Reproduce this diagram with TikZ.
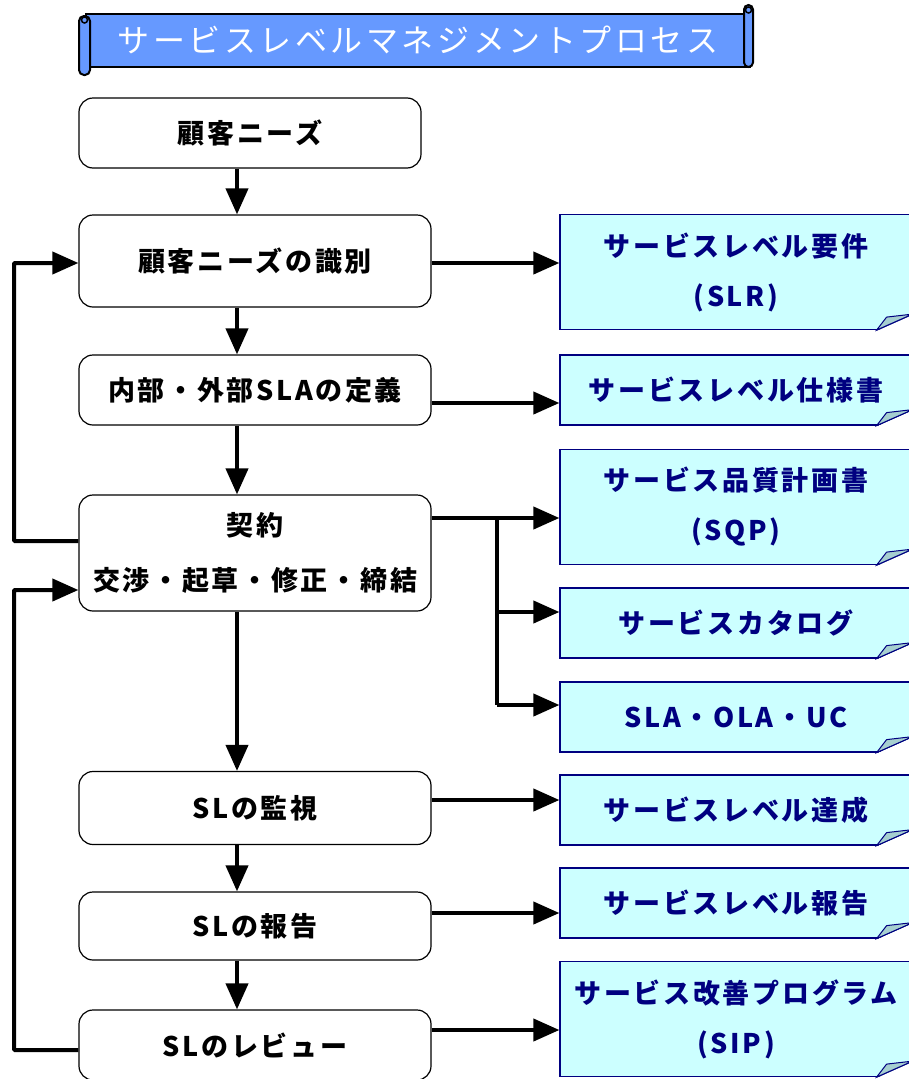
\documentclass[tikz,border=0pt]{standalone}
\usepackage{fontspec}
\newfontfamily\jpfont[LetterSpace=10]{Noto Sans CJK JP}
\newfontfamily\jptitle[LetterSpace=11]{Noto Sans CJK JP}
\usetikzlibrary{arrows.meta,calc}
\definecolor{titleblue}{HTML}{6699FF}
\definecolor{docfill}{HTML}{CCFFFF}
\definecolor{docline}{HTML}{000080}
\definecolor{foldfill}{HTML}{A6CFD0}
\tikzset{
  stepbox/.style={draw=black, line width=1.2pt, rounded corners=14pt, fill=white,
    minimum width=352pt, inner sep=0pt, align=center,
    font=\jpfont\bfseries\fontsize{27}{55}\selectfont},
  docbox/.style={draw=docline, line width=1.2pt, fill=docfill,
    minimum width=352pt, inner sep=0pt, align=center, text=docline,
    font=\jpfont\bfseries\fontsize{27}{50}\selectfont},
  flow/.style={line width=4pt, -{Triangle[length=26pt,width=22pt]}},
  link/.style={line width=4pt},
}
% folded corner of a document box
\newcommand\docfold[1]{%
  \fill[white] ($(#1.south east)+(-36,0.8)$) -- ($(#1.south east)+(2,0.8)$) -- ($(#1.south east)+(2,-16)$) -- cycle;
  \draw[docline, line width=1.2pt] ($(#1.south east)+(-36,0)$) -- ($(#1.south east)+(0,-16)$);
  \filldraw[fill=foldfill, draw=docline, line width=1pt] ($(#1.south east)+(-36,0)$) -- ($(#1.south east)+(-26,-13)$) -- ($(#1.south east)+(0,-16)$) -- cycle;
}
\begin{document}
\begin{tikzpicture}[x=1pt, y=-1pt]
  \useasboundingbox (0,0) rectangle (908,1079);

  % title scroll
  \draw[fill=titleblue, line width=2pt] (86,14) rectangle (750,67);
  \draw[fill=titleblue, line width=2pt, rounded corners=5pt] (79,16) rectangle (90,75);
  \draw[fill=titleblue, line width=2pt, rounded corners=4.5pt] (744,5) rectangle (753,67);
  \draw[line width=1.5pt] (84.5,20) circle (3);
  \draw[line width=1.5pt] (748.5,10) circle (3);
  \node[text=white, font=\jptitle\fontsize{32}{36}\selectfont] (title) at (418,40) {サービスレベルマネジメントプロセス};

  % process steps
  \node[stepbox, minimum width=342pt, minimum height=70pt] (needs) at (250,133) {顧客ニーズ};
  \node[stepbox, minimum height=92pt] (ident) at (255,261) {顧客ニーズの識別};
  \node[stepbox, minimum height=70pt] (define) at (255,390) {内部・外部SLAの定義};
  \node[stepbox, minimum height=116pt] (contract) at (255,553) {契約\\交渉・起草・修正・締結};
  \node[stepbox, minimum height=73pt] (monitor) at (255,808) {SLの監視};
  \node[stepbox, minimum height=68pt] (report) at (255,926) {SLの報告};
  \node[stepbox, minimum height=70pt] (review) at (255,1045) {SLのレビュー};

  % documents
  \node[docbox, minimum height=115pt] (slr) at (736,272) {サービスレベル要件\\(SLR)};
  \node[docbox, minimum height=70pt] (spec) at (736,390) {サービスレベル仕様書};
  \node[docbox, minimum height=115pt] (sqp) at (736,507) {サービス品質計画書\\(SQP)};
  \node[docbox, minimum height=70pt] (catalog) at (736,623) {サービスカタログ};
  \node[docbox, minimum height=70pt] (sla) at (736,717) {SLA・OLA・UC};
  \node[docbox, minimum height=70pt] (achieve) at (736,810) {サービスレベル達成};
  \node[docbox, minimum height=70pt] (slrep) at (736,903) {サービスレベル報告};
  \node[docbox, minimum height=115pt] (sip) at (736,1019) {サービス改善プログラム\\(SIP)};
  \foreach \d in {slr,spec,sqp,catalog,sla,achieve,slrep,sip} {\docfold{\d}}

  % connectors
  \coordinate (ax) at (237,0);
  \coordinate (bx) at (497,0);
  \coordinate (lx) at (14,0);
  \draw[flow] (needs.south -| ax) -- (ident.north -| ax);
  \draw[flow] (ident.south -| ax) -- (define.north -| ax);
  \draw[flow] (define.south -| ax) -- (contract.north -| ax);
  \draw[flow] (contract.south -| ax) -- (monitor.north -| ax);
  \draw[flow] (monitor.south -| ax) -- (report.north -| ax);
  \draw[flow] (report.south -| ax) -- (review.north -| ax);

  \draw[flow] (ident.east |- 0,263) -- (slr.west |- 0,263);
  \draw[flow] (define.east |- 0,403) -- (spec.west |- 0,403);
  \draw[flow] (contract.east |- 0,518) -- (sqp.west |- 0,518);
  \draw[link] (bx |- 0,516) -- (bx |- 0,705);
  \draw[flow] (bx |- 0,612) -- (catalog.west |- 0,612);
  \draw[flow] (bx |- 0,705) -- (sla.west |- 0,705);
  \draw[flow] (monitor.east |- 0,800) -- (achieve.west |- 0,800);
  \draw[flow] (report.east |- 0,913) -- (slrep.west |- 0,913);
  \draw[flow] (review.east |- 0,1030) -- (sip.west |- 0,1030);

  \draw[flow, rounded corners=1pt] (contract.west |- 0,541) -- (lx |- 0,541) -- (lx |- 0,263) -- (ident.west |- 0,263);
  \draw[flow, rounded corners=1pt] (review.west |- 0,1050) -- (lx |- 0,1050) -- (lx |- 0,590) -- (contract.west |- 0,590);
\end{tikzpicture}
\end{document}
